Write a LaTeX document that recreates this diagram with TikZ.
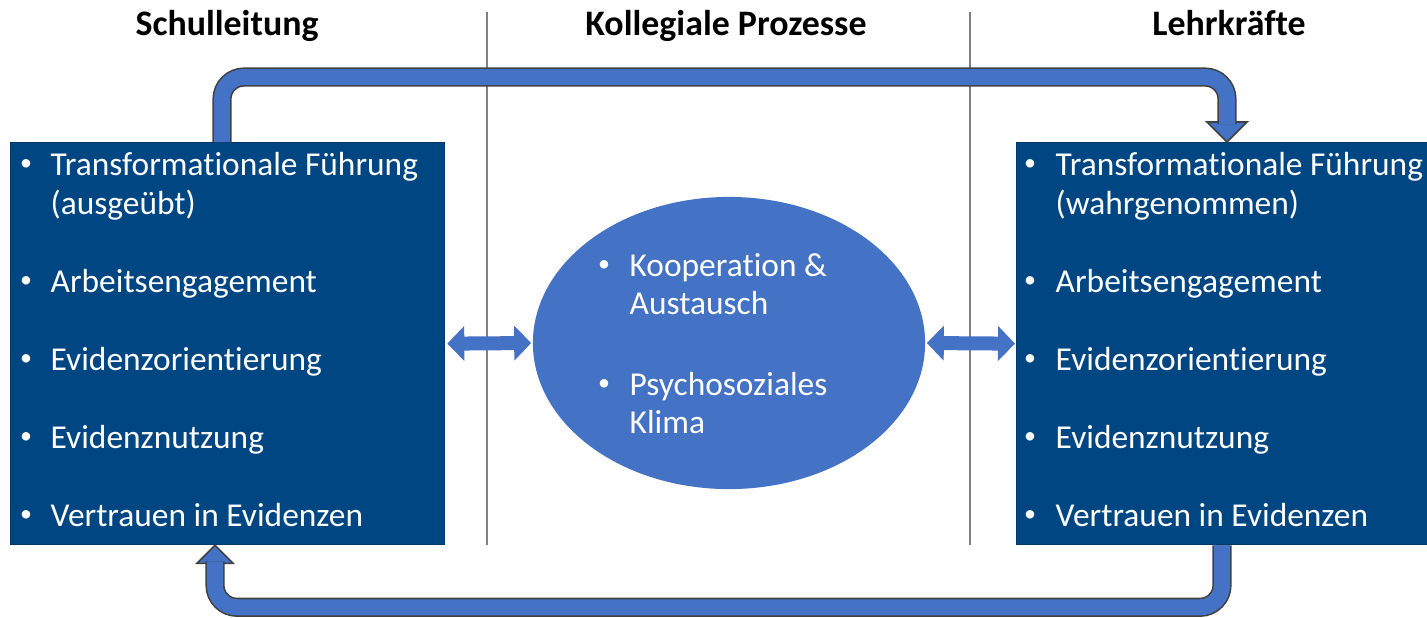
\documentclass[tikz,border=0pt]{standalone}
\usepackage{fontspec}
\setmainfont{Carlito}[Ligatures=NoCommon]
\usetikzlibrary{arrows.meta,calc,positioning,shapes.geometric}
\definecolor{boxblue}{RGB}{0,70,131}
\definecolor{lightblue}{RGB}{68,114,196}
\newcommand{\smallbullet}{\raisebox{1.3pt}{\fontsize{6.8}{7}\selectfont\textbullet}}
\begin{document}
\begin{tikzpicture}[x=0.01cm,y=-0.01cm,
    box/.style={fill=boxblue,draw=boxblue!80!black,line width=0.3pt,minimum width=#1,minimum height=4.02cm,inner sep=0pt,anchor=north west},
    item/.style={text=white,inner sep=0pt,anchor=base west,font=\fontsize{9.5}{11.4}\selectfont},
    dot/.style={text=white,inner sep=0pt,anchor=base},
    head/.style={inner sep=0pt,anchor=base,font=\fontsize{10.2}{12}\selectfont\bfseries},
    band/.style={draw=black!75,line width=0.45pt,double=lightblue,double distance=0.16cm,rounded corners=0.22cm},
    tip/.style={fill=lightblue,draw=black!75,line width=0.45pt,line join=miter},
    dblarrow/.style={lightblue,line width=0.14cm,{Triangle[length=0.17cm,width=0.34cm]}-{Triangle[length=0.17cm,width=0.34cm]}}]
    \useasboundingbox (0,0) rectangle (1427,617);
    % Trennlinien zwischen den drei Spalten
    \draw[black!50,line width=0.6pt] (487,12) -- (487,545);
    \draw[black!50,line width=0.6pt] (970,12) -- (970,545);
    % Spaltenueberschriften
    \node[head] (hsl) at (227,35) {Schulleitung};
    \node[head] (hkp) at (726,35) {Kollegiale Prozesse};
    \node[head] (hlk) at (1229,35) {Lehrkräfte};
    % Kaesten und Ellipse
    \node[box=4.34cm] (sl) at (10,142) {};
    \node[box=4.11cm] (lk) at (1016,142) {};
    \node[ellipse,fill=lightblue,minimum width=3.92cm,minimum height=2.92cm,inner sep=0pt] (kp) at (729,343) {};
    % Rueckkopplung oben: Schulleitung -> Lehrkraefte
    \draw[tip] ($(lk.north west)+(191,-20)$) -- ($(lk.north west)+(231,-20)$) -- ($(lk.north west)+(211,0)$) -- cycle;
    \draw[band] ($(sl.north west)+(212,0)$) -- ++(0,-65) -| ($(lk.north west)+(211,-18)$);
    % Rueckkopplung unten: Lehrkraefte -> Schulleitung
    \draw[tip] ($(sl.south west)+(187,18)$) -- ($(sl.south west)+(223,18)$) -- ($(sl.south west)+(205,0)$) -- cycle;
    \draw[band] ($(lk.south west)+(206,0)$) -- ++(0,62) -| ($(sl.south west)+(205,16)$);
    % Wechselwirkung mit den kollegialen Prozessen
    \draw[dblarrow] ($(sl.east)+(2,0)$) -- ($(kp.west)+(-1,0)$);
    \draw[dblarrow] ($(kp.east)+(1,0)$) -- ($(lk.west)+(-1,0)$);
    % Aufzaehlung Schulleitung
    \foreach \yy [count=\i] in {175,292,370,448,526}
      \node[dot] (slb\i) at (26,\yy) {\smallbullet};
    \foreach \txt/\yy [count=\i] in {Transformationale Führung/175,{(ausgeübt)}/214,Arbeitsengagement/292,Evidenzorientierung/370,Evidenznutzung/448,Vertrauen in Evidenzen/526}
      \node[item] (slt\i) at (50,\yy) {\txt};
    % Aufzaehlung Lehrkraefte
    \foreach \yy [count=\i] in {175,292,370,448,526}
      \node[dot] (lkb\i) at (1030,\yy) {\smallbullet};
    \foreach \txt/\yy [count=\i] in {Transformationale Führung/175,{(wahrgenommen)}/214,Arbeitsengagement/292,Evidenzorientierung/370,Evidenznutzung/448,Vertrauen in Evidenzen/526}
      \node[item] (lkt\i) at (1055,\yy) {\txt};
    % Aufzaehlung kollegiale Prozesse
    \foreach \yy [count=\i] in {276,395}
      \node[dot] (kpb\i) at (604,\yy) {\smallbullet};
    \foreach \txt/\yy [count=\i] in {Kooperation \&/276,Austausch/314,Psychosoziales/395,Klima/433}
      \node[item] (kpt\i) at (629,\yy) {\txt};
\end{tikzpicture}
\end{document}
